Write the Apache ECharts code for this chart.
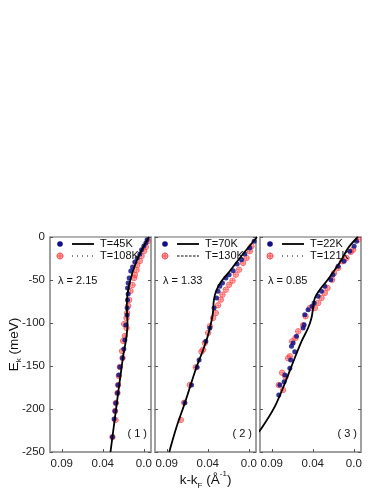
<!DOCTYPE html>
<html><head><meta charset="utf-8">
<script src="https://cdn.jsdelivr.net/npm/echarts@6/dist/echarts.min.js"></script>
<style>html,body{margin:0;padding:0;background:#fff}#c{width:385px;height:498px}</style>
</head><body><div id="c"></div>
<script>
// ---- data: [k - kF (1/Å), E (meV)] ----
const p1Line45K = [[-0.005,0],[0.0071,-27.9],[0.0146,-57],[0.0166,-79],[0.0159,-102],[0.0176,-121],[0.0205,-141],[0.0325,-250]];
const p1Blue45K = [[-0.0032,-3.1],[-0.002,-7.0],[0.0,-10.5],[0.0022,-14.8],[0.0039,-19.8],[0.0065,-24.4],[0.0088,-29.1],[0.011,-34.9],[0.0127,-39.5],[0.0143,-47.7],[0.0153,-53.5],[0.0159,-59.3],[0.0153,-66.3],[0.0159,-73.3],[0.0163,-82.6],[0.0163,-90.7],[0.0176,-102.3],[0.0185,-119.8],[0.0195,-130.2],[0.0208,-140.7],[0.0234,-151.2],[0.0244,-160.5],[0.0251,-172.1],[0.0257,-181.4],[0.0273,-193.0],[0.028,-202.3],[0.029,-211.6],[0.0306,-232.6]];
const p1Red108K = [[-0.0042,-4.7],[-0.002,-11.6],[-0.0003,-16.3],[0.0022,-22.1],[0.0039,-27.9],[0.0065,-32.6],[0.0071,-38.4],[0.0088,-44.2],[0.0095,-47.7],[0.011,-55.8],[0.013,-62.8],[0.0143,-73.3],[0.0153,-80.2],[0.0163,-88.4],[0.0169,-94.2],[0.0192,-101.2],[0.0169,-105.8],[0.0185,-115.1],[0.0202,-120.9],[0.0212,-132.6],[0.0208,-140.7],[0.0234,-151.2],[0.0244,-161.6],[0.0251,-172.1],[0.0257,-181.4],[0.0273,-193.0],[0.028,-202.3],[0.0276,-212.8],[0.0306,-232.6]];

const p2Line70K = [[-0.008,0],[0.0088,-24.4],[0.0185,-39.5],[0.0266,-51.2],[0.0315,-61.6],[0.0341,-73.3],[0.0348,-86.0],[0.0364,-97.7],[0.0397,-114.0],[0.0446,-131.4],[0.051,-151.2],[0.0624,-193.0],[0.0705,-220.9],[0.0776,-250]];
const p2Blue70K = [[-0.0052,-5.0],[-0.001,-12.8],[0.0039,-19.8],[0.0071,-26.4],[0.0114,-31.4],[0.0153,-39.2],[0.0192,-43.8],[0.0224,-47.7],[0.0257,-53.5],[0.0283,-57.3],[0.03,-63.1],[0.0315,-70.9],[0.0339,-82.6],[0.038,-105.8],[0.042,-121.3],[0.0485,-143.0],[0.0504,-151.5],[0.0559,-172.1],[0.0624,-192.7]];
const p2Red130K = [[-0.0075,-5.0],[-0.0026,-10.8],[-0.001,-16.6],[0.0022,-24.4],[0.0056,-30.2],[0.0095,-38.0],[0.0127,-43.8],[0.0159,-50.8],[0.0192,-55.5],[0.0224,-61.3],[0.0257,-67.1],[0.0273,-72.9],[0.03,-79.4],[0.0322,-88.4],[0.0348,-94.2],[0.038,-103.8],[0.0397,-111.6],[0.0429,-123.3],[0.0446,-131.0],[0.0462,-133.4],[0.0517,-151.5],[0.0576,-172.1],[0.0631,-192.7],[0.0663,-212.8]];

const p3Line22K = [[-0.0039,0],[0.0056,-12.8],[0.012,-26.4],[0.0185,-38.0],[0.0266,-51.5],[0.0332,-61.3],[0.038,-70.9],[0.0397,-82.6],[0.0413,-94.2],[0.0446,-105.8],[0.051,-121.3],[0.0576,-140.7],[0.0673,-170.1],[0.0771,-197.3],[0.09,-222.4],[0.095,-229]];
const p3Blue22K = [[-0.0026,-5.0],[-0.0003,-10.8],[0.0039,-16.6],[0.0095,-28.3],[0.0153,-34.1],[0.0202,-43.8],[0.0224,-49.7],[0.0283,-57.3],[0.0315,-63.1],[0.0348,-69.0],[0.0387,-76.7],[0.0407,-80.6],[0.0446,-84.5],[0.0478,-90.3],[0.0485,-102.0],[0.0495,-105.8],[0.0559,-115.5],[0.0592,-123.3],[0.0608,-127.1],[0.0576,-133.4],[0.0615,-143.0],[0.0624,-152.7],[0.0673,-160.5],[0.068,-168.3],[0.0722,-172.1],[0.0732,-183.7]];
const p3Red121K = [[-0.0042,-3.1],[0.0007,-14.8],[0.0029,-17.4],[0.0071,-24.4],[0.0114,-28.3],[0.0153,-36.0],[0.0192,-41.9],[0.0212,-49.7],[0.0257,-59.3],[0.0283,-65.1],[0.0315,-70.9],[0.0348,-76.7],[0.038,-82.6],[0.0429,-82.6],[0.0471,-92.2],[0.0495,-102.7],[0.0543,-109.7],[0.0569,-117.4],[0.0602,-121.3],[0.0624,-138.7],[0.0641,-141.0],[0.07,-157.8],[0.0666,-162.4],[0.0732,-172.1],[0.069,-177.9]];

const lowTLabels = ['T=45K','T=70K','T=22K'];
const highTLabels = ['T=108K','T=130K','T=121K'];
const lambdaLabels = ['λ = 2.15','λ = 1.33','λ = 0.85'];
const panelLabels = ['( 1 )','( 2 )','( 3 )'];
const xTickValues = [0.08, 0.04, 0];
const xTickLabels = ['0.09','0.04','0.0'];

// ---- layout ----
const lines = [p1Line45K, p2Line70K, p3Line22K];
const blues = [p1Blue45K, p2Blue70K, p3Blue22K];
const reds = [p1Red108K, p2Red130K, p3Red121K];
const lefts = [50, 155, 260];
const W = 101, TOP = 237, H = 215;
const FONT = 'Liberation Sans, Arial, sans-serif';
const frameColor = '#9a9a9a';
const blue = '#10108a';
const red = '#ff4040';
const lineStyles = ['dotted', 'dashed', 'dotted'];

const grids = [], xAxes = [], yAxes = [], series = [], graphics = [];
for (let i = 0; i < 3; i++) {
  grids.push({left: lefts[i], top: TOP, width: W, height: H, show: true, borderColor: frameColor, borderWidth: 1.5, backgroundColor: 'transparent', containLabel: false});
  const xa = {
    gridIndex: i, type: 'value', inverse: true, min: -0.007, max: 0.0915,
    axisLine: {show: true, onZero: false, lineStyle: {color: frameColor, width: 1.5}},
    axisTick: {show: true, inside: true, length: 3, customValues: xTickValues, lineStyle: {color: '#555'}},
    axisLabel: {show: true, customValues: xTickValues, color: '#222', fontSize: 11.5, fontFamily: FONT, margin: 6,
      formatter: v => { const k = xTickValues.findIndex(t => Math.abs(t - v) < 1e-9); return k >= 0 ? xTickLabels[k] : ''; }},
    splitLine: {show: false}
  };
  if (i === 1) {
    xa.name = '{a|k-k}{s|F}{a| (Å}{p|-1}{a|)}';
    xa.nameLocation = 'middle';
    xa.nameGap = 18;
    xa.nameMoveOverlap = false;
    xa.nameTextStyle = {rich: {
      a: {fontSize: 13.5, fontFamily: FONT, color: '#111', lineHeight: 18},
      s: {fontSize: 8, fontFamily: FONT, color: '#111', verticalAlign: 'bottom', lineHeight: 12},
      p: {fontSize: 8, fontFamily: FONT, color: '#111', verticalAlign: 'top', lineHeight: 20}
    }};
  }
  xAxes.push(xa);
  const ya = {
    gridIndex: i, type: 'value', min: -250, max: 0, interval: 50, position: 'left',
    axisLine: {show: true, onZero: false, lineStyle: {color: frameColor, width: 1.5}},
    axisTick: {show: true, inside: true, length: 3, lineStyle: {color: '#555'}},
    axisLabel: {show: i === 0, color: '#222', fontSize: 11.5, fontFamily: FONT, margin: 5},
    splitLine: {show: false}
  };
  if (i === 0) {
    ya.name = '{a|E}{s|k}{a| (meV)}';
    ya.nameLocation = 'middle';
    ya.nameRotate = 90;
    ya.nameGap = 27;
    ya.nameMoveOverlap = false;
    ya.nameTextStyle = {rich: {
      a: {fontSize: 13.5, fontFamily: FONT, color: '#111', lineHeight: 18},
      s: {fontSize: 8, fontFamily: FONT, color: '#111', verticalAlign: 'bottom', lineHeight: 12}
    }};
  }
  yAxes.push(ya);
  yAxes.push({
    gridIndex: i, type: 'value', min: -250, max: 0, interval: 50, position: 'right',
    axisLine: {show: true, onZero: false, lineStyle: {color: frameColor, width: 1.5}},
    axisTick: {show: true, inside: true, length: 3, lineStyle: {color: '#555'}},
    axisLabel: {show: false}, splitLine: {show: false}
  });

  series.push({type: 'scatter', xAxisIndex: i, yAxisIndex: 2 * i, data: reds[i], symbol: 'circle', symbolSize: 5.5,
    itemStyle: {color: 'rgba(255,100,100,0.6)', borderColor: red, borderWidth: 0.8}, silent: true, z: 2});
  series.push({type: 'scatter', xAxisIndex: i, yAxisIndex: 2 * i, data: reds[i], symbol: 'path://M9,0h2v20h-2zM0,9h20v2h-20z', symbolSize: 5.5,
    itemStyle: {color: red, opacity: 0.85}, silent: true, z: 2});
  series.push({type: 'scatter', xAxisIndex: i, yAxisIndex: 2 * i, data: blues[i], symbol: 'circle', symbolSize: 5,
    itemStyle: {color: blue, opacity: 0.85}, silent: true, z: 3});
  series.push({type: 'line', xAxisIndex: i, yAxisIndex: 2 * i, data: lines[i], smooth: 0.35, showSymbol: false,
    lineStyle: {color: '#000', width: 1.8}, silent: true, z: 4, clip: true});

  // legend (decoration)
  const L = lefts[i];
  graphics.push({type: 'circle', shape: {cx: L + 10, cy: TOP + 7, r: 2.8}, style: {fill: blue}, z: 10});
  graphics.push({type: 'line', shape: {x1: L + 22, y1: TOP + 7, x2: L + 44, y2: TOP + 7}, style: {stroke: '#000', lineWidth: 1.8}, z: 10});
  graphics.push({type: 'text', x: L + 50, y: TOP + 7, style: {text: lowTLabels[i], fill: '#111', font: '11px ' + FONT, textVerticalAlign: 'middle'}, z: 10});
  graphics.push({type: 'circle', shape: {cx: L + 10, cy: TOP + 19, r: 3}, style: {fill: 'rgba(255,100,100,0.5)', stroke: red, lineWidth: 0.8}, z: 10});
  graphics.push({type: 'line', shape: {x1: L + 6.5, y1: TOP + 19, x2: L + 13.5, y2: TOP + 19}, style: {stroke: red, lineWidth: 0.8}, z: 10});
  graphics.push({type: 'line', shape: {x1: L + 10, y1: TOP + 15.5, x2: L + 10, y2: TOP + 22.5}, style: {stroke: red, lineWidth: 0.8}, z: 10});
  graphics.push({type: 'line', shape: {x1: L + 22, y1: TOP + 19, x2: L + 44, y2: TOP + 19},
    style: {stroke: '#000', lineWidth: 1, lineDash: lineStyles[i] === 'dotted' ? [1, 4] : [2.5, 1.5]}, z: 10});
  graphics.push({type: 'text', x: L + 50, y: TOP + 19, style: {text: highTLabels[i], fill: '#111', font: '11px ' + FONT, textVerticalAlign: 'middle'}, z: 10});
  graphics.push({type: 'text', x: L + 8, y: TOP + 44, style: {text: lambdaLabels[i], fill: '#111', font: '11px ' + FONT, textVerticalAlign: 'middle'}, z: 10});
  graphics.push({type: 'text', x: L + W - 4, y: TOP + H - 18, style: {text: panelLabels[i], fill: '#111', font: '11px ' + FONT, textAlign: 'right', textVerticalAlign: 'middle'}, z: 10});
}

const chart = echarts.init(document.getElementById('c'), null, {renderer: 'canvas'});
chart.setOption({
  animation: false,
  backgroundColor: '#fff',
  textStyle: {fontFamily: FONT},
  grid: grids, xAxis: xAxes, yAxis: yAxes, series: series, graphic: graphics
});
</script>
</body></html>
